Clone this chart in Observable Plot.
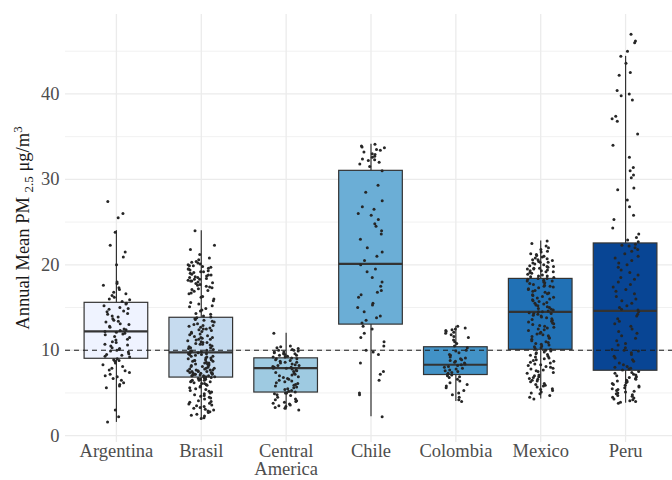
<!DOCTYPE html>
<html>
<head>
<meta charset="utf-8">
<script src="https://cdn.jsdelivr.net/npm/d3@7"></script>
<script src="https://cdn.jsdelivr.net/npm/@observablehq/plot@0.6"></script>
<style>
  html, body { margin: 0; padding: 0; background: #fff; }
  #chart svg { display: block; }
</style>
</head>
<body>
<div id="chart"></div>
<script>
// ---- Data ----
const countries = ["Argentina", "Brasil", "Central America", "Chile", "Colombia", "Mexico", "Peru"];
const tickLabels = ["Argentina", "Brasil", "Central\nAmerica", "Chile", "Colombia", "Mexico", "Peru"];
const yTicks = [0, 10, 20, 30, 40];
const guideline = 10;

// box statistics
const whiskerLow  = [1.55, 2.0, 3.0, 2.2, 4.0, 4.3, 3.8];
const quart1      = [9.0, 6.8, 5.05, 13.0, 7.1, 10.05, 7.6];
const medians     = [12.2, 9.75, 7.9, 20.1, 8.3, 14.5, 14.6];
const quart3      = [15.55, 13.8, 9.05, 31.0, 10.35, 18.35, 22.5];
const whiskerHigh = [24.0, 24.0, 12.0, 34.1, 12.8, 22.8, 44.4];

// individual observations (estimated from the jittered points)
const argentina = [27.4, 26.0, 25.5, 23.8, 22.3, 21.5, 20.9, 20.0, 18.0, 17.8, 17.6, 17.3, 17.1, 16.8, 16.6, 16.4, 16.2, 16.0, 15.9, 15.7, 15.5, 15.4, 15.2, 15.0, 14.9, 14.8, 14.6, 14.5, 14.3, 14.2, 14.0, 13.9, 13.7, 13.5, 13.4, 13.3, 13.1, 13.0, 12.8, 12.7, 12.5, 12.4, 12.3, 12.2, 12.1, 12.0, 11.9, 11.8, 11.6, 11.5, 11.3, 11.2, 11.0, 10.9, 10.7, 10.6, 10.5, 10.3, 10.2, 10.1, 10.0, 9.9, 9.8, 9.6, 9.5, 9.4, 9.3, 9.2, 9.0, 8.9, 8.8, 8.7, 8.5, 8.3, 8.1, 7.9, 7.7, 7.6, 7.4, 7.2, 7.0, 6.9, 6.7, 6.5, 6.2, 6.0, 5.8, 5.6, 3.0, 2.2, 1.6];
const brasil = [24.0, 22.3, 21.8, 21.2, 20.8, 20.6, 20.4, 20.3, 20.2, 20.1, 20.0,
  19.9, 19.8, 19.7, 19.6, 19.5, 19.4, 19.3, 19.2, 19.1, 19.0, 19.9, 19.5, 19.2,
  18.9, 18.8, 18.7, 18.6, 18.5, 18.4, 18.3, 18.2, 18.1, 18.0, 18.8, 18.5, 18.3, 18.1,
  17.9, 17.7, 17.5, 17.3, 17.1, 17.8, 17.4, 17.0, 17.6, 17.2,
  16.9, 16.6, 16.3, 16.0, 16.7, 16.2,
  15.8, 15.4, 15.1, 15.6, 15.2,
  14.9, 14.6, 14.3, 14.0, 14.7, 14.2,
  13.9, 13.7, 13.5, 13.3, 13.1, 13.8, 13.4, 13.0, 13.6,
  12.9, 12.7, 12.5, 12.3, 12.1, 12.8, 12.4, 12.0, 12.6, 12.2, 12.9, 12.5,
  11.9, 11.7, 11.5, 11.3, 11.1, 11.8, 11.4, 11.0, 11.6, 11.2, 11.5, 11.3,
  10.9, 10.7, 10.5, 10.3, 10.1, 10.8, 10.4, 10.0, 10.6, 10.2, 10.7, 10.3, 10.9,
  9.9, 9.7, 9.5, 9.3, 9.1, 9.8, 9.4, 9.0, 9.6, 9.2, 9.9, 9.5, 9.1, 9.7, 9.3, 9.6,
  8.9, 8.7, 8.5, 8.3, 8.1, 8.8, 8.4, 8.0, 8.6, 8.2, 8.9, 8.5, 8.1, 8.7, 8.2, 8.4, 8.8,
  7.9, 7.8, 7.7, 7.6, 7.5, 7.4, 7.3, 7.2, 7.1, 7.0, 7.9, 7.7, 7.5, 7.3, 7.1, 7.8, 7.6, 7.4, 7.2, 7.0, 7.5, 7.2, 7.0, 7.3, 7.7,
  6.9, 6.8, 6.7, 6.6, 6.5, 6.4, 6.3, 6.2, 6.1, 6.0, 6.9, 6.7, 6.5, 6.3, 6.1, 6.8, 6.9, 6.6, 6.5, 6.8,
  5.9, 5.7, 5.5, 5.3, 5.1, 5.8, 5.4, 5.0, 5.6, 5.2,
  4.9, 4.7, 4.5, 4.3, 4.1, 4.8, 4.4, 4.0, 4.6,
  3.9, 3.7, 3.5, 3.3, 3.1, 3.8, 3.4, 3.0, 3.6, 3.2,
  2.9, 2.7, 2.5, 2.3, 2.1, 2.8, 2.4, 2.0];
const centralAmerica = [12.0, 10.5, 10.4, 10.3, 10.2, 10.1, 10.0, 10.0, 9.9, 9.8, 9.8, 9.7, 9.6, 9.6, 9.5, 9.4, 9.4, 9.3, 9.2, 9.2, 9.1, 9.0, 9.0, 8.9, 8.8, 8.7, 8.6, 8.6, 8.5, 8.4, 8.3, 8.2, 8.2, 8.1, 8.0, 8.0, 7.9, 7.9, 7.8, 7.7, 7.6, 7.5, 7.4, 7.3, 7.2, 7.1, 7.0, 6.9, 6.8, 6.7, 6.6, 6.5, 6.4, 6.3, 6.2, 6.1, 6.0, 5.9, 5.8, 5.7, 5.6, 5.5, 5.4, 5.3, 5.2, 5.1, 5.0, 5.0, 4.9, 4.8, 4.7, 4.5, 4.3, 4.2, 4.1, 4.0, 3.9, 3.8, 3.7, 3.6, 3.5, 3.4, 3.3, 3.2, 3.0];
const chile = [34.1, 33.9, 33.8, 33.7, 33.5, 33.4, 33.2, 33.0, 32.9, 32.7, 32.6, 32.4, 32.3, 32.2, 32.0, 31.8, 31.5, 31.0, 29.3, 28.5, 27.5, 26.8, 26.5, 26.0, 25.8, 25.3, 24.8, 24.5, 24.0, 23.6, 23.0, 22.0, 21.5, 21.0, 20.5, 20.0, 19.5, 19.2, 18.5, 18.0, 17.5, 17.0, 16.8, 16.5, 16.2, 15.5, 15.3, 15.0, 14.5, 14.0, 13.8, 13.5, 13.2, 12.8, 12.5, 12.0, 11.5, 11.0, 10.5, 10.0, 9.8, 9.5, 8.5, 7.5, 7.2, 6.5, 5.0, 4.8, 2.2];
const colombia = [12.8, 12.6, 12.5, 12.4, 12.3, 12.2, 12.1, 12.0, 11.8, 11.6, 11.5, 11.2, 11.0, 10.8, 10.5, 10.3, 10.0, 9.9, 9.7, 9.5, 9.4, 9.2, 9.1, 9.0, 8.9, 8.8, 8.7, 8.6, 8.5, 8.4, 8.3, 8.2, 8.1, 8.0, 7.9, 7.8, 7.7, 7.6, 7.5, 7.4, 7.3, 7.2, 7.1, 7.0, 6.9, 6.8, 6.6, 6.4, 6.2, 6.0, 5.8, 5.6, 5.3, 5.0, 4.8, 4.5, 4.2, 4.0];
const mexico = [22.8, 22.5, 22.2, 22.0, 21.8, 21.6, 21.5, 21.3, 21.2, 21.0, 20.9, 20.8, 20.7, 20.6, 20.5, 20.4, 20.3, 20.2, 20.1, 20.0, 21.1, 20.6, 20.3,
  19.9, 19.8, 19.7, 19.6, 19.5, 19.4, 19.3, 19.2, 19.1, 19.0, 19.8, 19.5, 19.2, 19.6, 19.3,
  18.9, 18.8, 18.7, 18.6, 18.5, 18.4, 18.3, 18.2, 18.1, 18.0, 18.7, 18.4, 18.1,
  17.9, 17.7, 17.5, 17.3, 17.1, 17.8, 17.4, 17.0, 17.6, 17.2, 17.5,
  16.9, 16.7, 16.5, 16.3, 16.1, 16.8, 16.4, 16.0, 16.6, 16.2,
  15.9, 15.7, 15.5, 15.3, 15.1, 15.8, 15.4, 15.0, 15.6, 15.2,
  14.9, 14.7, 14.5, 14.3, 14.1, 14.8, 14.4, 14.0, 14.6, 14.2, 14.5, 14.3,
  13.9, 13.7, 13.5, 13.3, 13.1, 13.8, 13.4, 13.0, 13.6, 13.2,
  12.9, 12.7, 12.5, 12.3, 12.1, 12.8, 12.4, 12.0, 12.6,
  11.9, 11.7, 11.5, 11.3, 11.1, 11.8, 11.4, 11.0, 11.6,
  10.9, 10.7, 10.5, 10.3, 10.1, 10.8, 10.4, 10.0, 10.6, 10.2,
  9.9, 9.7, 9.5, 9.3, 9.1, 9.8, 9.4, 9.0, 9.6, 9.2,
  8.9, 8.7, 8.5, 8.3, 8.1, 8.8, 8.4, 8.0, 8.6, 8.2,
  7.9, 7.7, 7.5, 7.3, 7.1, 7.8, 7.4, 7.0, 7.6,
  6.9, 6.7, 6.5, 6.3, 6.1, 6.8, 6.4, 6.0, 6.6,
  5.9, 5.7, 5.5, 5.3, 5.1, 5.8, 5.4, 5.0,
  4.9, 4.7, 4.5, 4.3];
const peru = [47.0, 46.2, 46.0, 45.0, 44.4, 43.6, 42.5, 42.2, 40.4, 40.0, 39.8, 39.3, 37.4, 37.1, 36.8, 35.3, 34.0, 32.6, 31.4, 31.0, 30.5, 30.2, 29.0, 28.8, 27.6, 26.8, 25.8, 25.3, 24.3, 23.6, 23.2, 22.9, 22.7,
  22.4, 22.3, 22.2, 22.0, 21.8, 21.6, 21.3, 21.0, 20.8, 20.5, 20.2, 20.0, 19.7, 19.4, 19.1, 18.8, 18.5, 18.3, 18.0, 17.7, 17.4, 17.1, 16.9, 16.6, 16.3, 16.0, 15.8, 15.5, 15.2, 15.0, 14.8, 14.7,
  14.5, 14.2, 14.0, 13.7, 13.4, 13.1, 12.8, 12.5, 12.2, 12.0, 11.7, 11.4, 11.1, 10.8, 10.6, 10.3, 10.1, 10.0, 9.9, 9.7, 9.5, 9.3, 9.1, 8.9, 8.7, 8.5, 8.3, 8.1, 8.0, 7.9, 7.8, 7.7,
  7.5, 7.4, 7.3, 7.2, 7.1, 7.0, 6.9, 6.8, 6.7, 6.6, 6.5, 6.4, 6.3, 6.2, 6.1, 6.0, 5.9, 5.8, 5.7, 5.6, 5.5, 5.4, 5.3, 5.2, 5.1, 5.0, 4.9, 4.8, 4.7, 4.6, 4.5, 4.4, 4.3, 4.2, 4.1, 4.0, 3.9, 3.8];

const palette = ["#eff3ff", "#c6dbef", "#9ecae1", "#6baed6", "#4292c6", "#2171b5", "#084594"];

// ---- Tables ----
const series = [argentina, brasil, centralAmerica, chile, colombia, mexico, peru];
const boxes = countries.map((c, i) => ({
  country: c, pos: i + 1,
  lo: whiskerLow[i], q1: quart1[i], med: medians[i], q3: quart3[i], hi: whiskerHigh[i]
}));
// deterministic jitter (horizontal presentation offset only)
const hash = n => { const s = Math.sin(n * 12.9898 + 78.233) * 43758.5453; return s - Math.floor(s); };
const points = series.flatMap((vals, i) =>
  vals.map((v, j) => ({country: countries[i], x: i + 1 + (hash(i * 1000 + j) - 0.5) * 0.32, v}))
);

const halfW = 0.375;
const minor = [5, 15, 25, 35, 45];
const FS = 18.5;
const FONT = "'Liberation Serif', 'DejaVu Serif', serif";

const chart = Plot.plot({
  width: 672,
  height: 480,
  marginLeft: 65,
  marginRight: 0,
  marginTop: 14,
  marginBottom: 38,
  style: {fontFamily: FONT, fontSize: FS + "px", background: "#fff", color: "#4d4d4d"},
  x: {type: "linear", domain: [0.4, 7.6], range: [65, 676]},
  y: {domain: [-0.8, 49.3]},
  color: {domain: countries, range: palette},
  marks: [
    Plot.ruleY(minor, {stroke: "#ebebeb", strokeWidth: 0.7}),
    Plot.ruleY(yTicks, {stroke: "#ebebeb", strokeWidth: 1.3}),
    Plot.ruleX(d3.range(1, countries.length + 1), {stroke: "#ebebeb", strokeWidth: 1.3}),
    Plot.ruleX(boxes, {x: "pos", y1: "q3", y2: "hi", stroke: "#333", strokeWidth: 1.2}),
    Plot.ruleX(boxes, {x: "pos", y1: "lo", y2: "q1", stroke: "#333", strokeWidth: 1.2}),
    Plot.rect(boxes, {x1: d => d.pos - halfW, x2: d => d.pos + halfW, y1: "q1", y2: "q3", fill: "country", stroke: "#333", strokeWidth: 1.2}),
    Plot.ruleY(boxes, {y: "med", x1: d => d.pos - halfW, x2: d => d.pos + halfW, stroke: "#333", strokeWidth: 2.2}),
    Plot.ruleY([guideline], {stroke: "#1a1a1a", strokeWidth: 1, strokeDasharray: "5,4"}),
    Plot.dot(points, {x: "x", y: "v", r: 1.5, fill: "#262626", stroke: null}),
    Plot.axisY({ticks: yTicks, tickSize: 0, tickPadding: 6, label: null, fill: "#4d4d4d", fontSize: FS}),
    Plot.axisX({ticks: d3.range(1, countries.length + 1), tickFormat: i => tickLabels[i - 1], tickSize: 0, tickPadding: 2, label: null, fill: "#4d4d4d", fontSize: FS, lineHeight: 0.95})
  ]
});

// y-axis title with subscript / superscript
const svg = d3.select(chart);
const title = svg.append("text")
  .attr("transform", "translate(29,228) rotate(-90)")
  .attr("text-anchor", "middle")
  .attr("fill", "#1a1a1a")
  .attr("font-family", FONT)
  .attr("font-size", FS);
title.append("tspan").text("Annual Mean PM ");
title.append("tspan").attr("font-size", 13).attr("dy", 4).text("2.5");
title.append("tspan").attr("dy", -4).text(" \u03bcg/m");
title.append("tspan").attr("font-size", 13).attr("dy", -7).text("3");

document.getElementById("chart").appendChild(chart);
</script>
</body>
</html>
